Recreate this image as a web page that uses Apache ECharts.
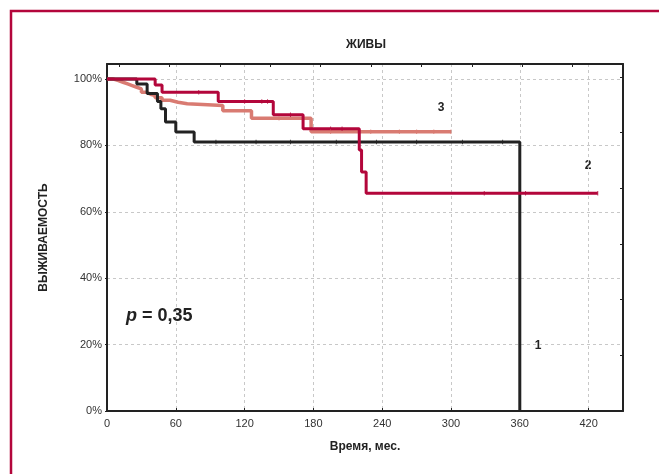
<!DOCTYPE html>
<html>
<head>
<meta charset="utf-8">
<script src="https://cdn.jsdelivr.net/npm/echarts@6/dist/echarts.min.js"></script>
<style>
  html, body { margin: 0; padding: 0; background: #fff; }
  #chart { width: 659px; height: 474px; }
</style>
</head>
<body>
<div id="chart"></div>
<script>
// survival steps: [time (months), survival %] — value holds until next drop
const group1 = [[0, 100], [26, 98.5], [35, 95.6], [44, 93.2], [47, 91], [51, 87], [60, 84], [76, 81], [360, 0]];
const group2 = [[0, 100], [42, 98.2], [48, 96], [97, 93.2], [145, 89.2], [171, 85], [220, 78.6], [222, 72], [226, 65.6], [428, 65.6]];
const group3 = [[0, 100], [5, 99.5], [10, 99], [14, 98.5], [18, 98], [22, 97.5], [26, 97], [30, 96], [34, 95.4],
  [38, 95], [42, 94.3], [48, 93.6], [55, 93], [62, 92.5], [70, 92], [101, 90.4], [126, 88.2], [178, 84.1], [300, 84.1]];

// censored observations (small vertical ticks)
const cens1 = [[95, 81], [130, 81], [160, 81], [200, 81], [235, 81], [270, 81], [310, 81], [345, 81]];
const cens2 = [[80, 96], [120, 93.2], [135, 93.2], [140, 93.2], [160, 89.2], [195, 85], [205, 85], [329, 65.6], [365, 65.6], [428, 65.6]];
const cens3 = [[150, 88.2], [195, 84.1], [230, 84.1], [255, 84.1], [270, 84.1], [285, 84.1], [300, 84.1]];

const BLACK = "#222222";
const CRIMSON = "#b3063b";
const PEACH = "#d97b72";

const chart = echarts.init(document.getElementById("chart"));

function censSeries(data, color) {
  return {
    type: "scatter",
    data: data,
    symbol: "rect",
    symbolSize: [1, 4.5],
    itemStyle: { color: color },
    silent: true,
    z: 4,
  };
}

chart.setOption({
  animation: false,
  textStyle: { fontFamily: "Liberation Sans, Arial, sans-serif" },
  grid: { left: 107, right: 36, top: 64, bottom: 63 },
  xAxis: [
    {
      type: "value",
      min: 0,
      max: 450,
      interval: 60,
      name: "Время, мес.",
      nameLocation: "middle",
      nameGap: 30,
      nameTextStyle: { fontSize: 12, fontWeight: "bold", color: "#222" },
      axisLine: { onZero: false, lineStyle: { color: BLACK, width: 2 } },
      axisTick: { inside: true, length: 3, lineStyle: { color: BLACK } },
      axisLabel: { color: "#333", fontSize: 11, margin: 7, showMaxLabel: false },
      splitLine: { show: true, lineStyle: { color: "#c8c8c8", type: [3, 3], width: 1 } },
    },
    {
      // top frame with its own tick spacing
      type: "value",
      position: "top",
      inverse: true,
      min: 0,
      max: 10.24,
      interval: 1,
      axisLine: { show: true, onZero: false, lineStyle: { color: BLACK, width: 2 } },
      axisTick: { show: true, inside: true, length: 3, lineStyle: { color: BLACK } },
      axisLabel: { show: false },
      splitLine: { show: false },
    },
  ],
  yAxis: [
    {
      type: "value",
      min: 0,
      max: 104.5,
      interval: 20,
      name: "ВЫЖИВАЕМОСТЬ",
      nameLocation: "middle",
      nameGap: 57,
      nameTextStyle: { fontSize: 12, fontWeight: "bold", color: "#222" },
      axisLine: { show: true, onZero: false, lineStyle: { color: BLACK, width: 2 } },
      axisTick: { show: true, length: 2, lineStyle: { color: BLACK } },
      axisLabel: { color: "#333", fontSize: 11, margin: 5, showMaxLabel: false, formatter: "{value}%" },
      splitLine: { show: true, lineStyle: { color: "#c8c8c8", type: [3, 3], width: 1 } },
    },
    {
      // right frame
      type: "value",
      position: "right",
      min: 0,
      max: 6.23,
      interval: 1,
      axisLine: { show: true, onZero: false, lineStyle: { color: BLACK, width: 2 } },
      axisTick: { show: true, inside: true, length: 3, lineStyle: { color: BLACK } },
      axisLabel: { show: false },
      splitLine: { show: false },
    },
  ],
  series: [
    {
      name: "1",
      type: "line",
      step: "end",
      data: group1,
      symbol: "none",
      lineStyle: { color: BLACK, width: 3 },
      z: 3,
    },
    {
      name: "2",
      type: "line",
      step: "end",
      data: group2,
      symbol: "none",
      lineStyle: { color: CRIMSON, width: 3 },
      z: 3,
    },
    {
      name: "3",
      type: "line",
      step: "end",
      data: group3,
      symbol: "none",
      lineStyle: { color: PEACH, width: 3.5 },
      z: 2,
    },
    censSeries(cens1, BLACK),
    censSeries(cens2, CRIMSON),
    censSeries(cens3, PEACH),
  ],
  graphic: [
    {
      // page frame (only top/left edges visible)
      type: "rect",
      shape: { x: 11, y: 11, width: 700, height: 520 },
      style: { fill: null, stroke: CRIMSON, lineWidth: 2.5 },
      silent: true,
    },
    {
      type: "text",
      x: 366,
      y: 45,
      style: { text: "ЖИВЫ", font: "bold 12px Liberation Sans, Arial", fill: "#222", textAlign: "center", textVerticalAlign: "middle" },
    },
    {
      type: "text",
      x: 126,
      y: 316,
      style: {
        text: "{i|p} = 0,35",
        font: "bold 18px Liberation Sans, Arial",
        fill: "#222",
        textVerticalAlign: "middle",
        rich: { i: { fontStyle: "italic", fontWeight: "bold", fontSize: 18, fontFamily: "Liberation Sans, Arial" } },
      },
    },
    {
      type: "text",
      x: 538,
      y: 346,
      style: { text: "1", font: "bold 12px Liberation Sans, Arial", fill: "#222", textAlign: "center", textVerticalAlign: "middle" },
    },
    {
      type: "text",
      x: 588,
      y: 166,
      style: { text: "2", font: "bold 12px Liberation Sans, Arial", fill: "#222", textAlign: "center", textVerticalAlign: "middle" },
    },
    {
      type: "text",
      x: 441,
      y: 108,
      style: { text: "3", font: "bold 12px Liberation Sans, Arial", fill: "#222", textAlign: "center", textVerticalAlign: "middle" },
    },
  ],
});
</script>
</body>
</html>
